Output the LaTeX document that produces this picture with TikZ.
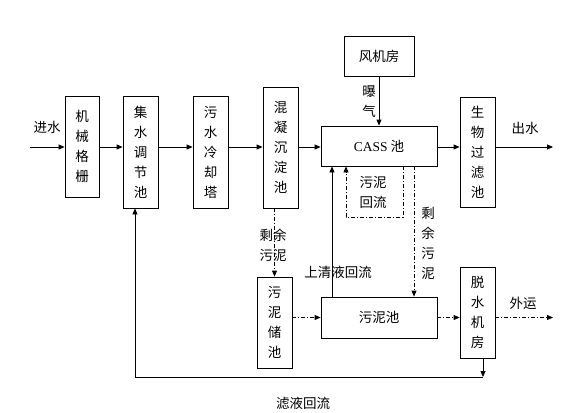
\documentclass[tikz,border=0pt]{standalone}
\usepackage{fontspec}
\setmainfont{Liberation Serif}
\newfontfamily\cjk{Noto Sans CJK SC}
\usetikzlibrary{arrows.meta}
\begin{document}
\begin{tikzpicture}[x=1pt,y=-1pt,
  every node/.style={font=\cjk\fontsize{13.5}{20}\selectfont, inner sep=0pt},
  box/.style={draw, line width=0.8pt, align=center},
  lbl/.style={align=center},
  arr/.style={-{Triangle[length=6pt,width=5pt]}},
  conn/.style={line width=0.8pt},
  dd/.style={line width=0.8pt, dash pattern=on 4pt off 2pt on 1pt off 2pt}]
\useasboundingbox (0,0) rectangle (580,412);
% boxes
\node[box, minimum width=34pt, minimum height=101pt] (jx) at (82,146.5) {机\\械\\格\\栅};
\node[box, minimum width=35pt, minimum height=112pt] (jsh) at (140.5,152) {集\\水\\调\\节\\池};
\node[box, minimum width=35pt, minimum height=112pt] (ws) at (210.5,152) {污\\水\\冷\\却\\塔};
\node[box, minimum width=35pt, minimum height=121pt] (hn) at (280.5,147.5) {混\\凝\\沉\\淀\\池};
\node[box, minimum width=70pt, minimum height=40pt] (fj) at (379,56) {风机房};
\node[box, minimum width=116pt, minimum height=40pt] (cass) at (379,146) {{\rmfamily CASS} 池};
\node[box, minimum width=35pt, minimum height=110pt] (sw) at (477.5,152) {生\\物\\过\\滤\\池};
\node[box, minimum width=116pt, minimum height=41pt] (wnc) at (379,317.5) {污泥池};
\node[box, minimum width=35pt, minimum height=91pt] (ts) at (477.5,312.5) {脱\\水\\机\\房};
\node[box, minimum width=35pt, minimum height=91pt] (cc) at (274.5,322.5) {污\\泥\\储\\池};
% coordinates
\coordinate (in) at (30,147);
\coordinate (out) at (553,147);
\coordinate (wy) at (553,317.5);
\coordinate (bl) at (135,377);
\coordinate (br) at (483,377);
% main flow
\draw[conn,arr] (in) -- (jx.west |- in);
\draw[conn,arr] (jx.east |- in) -- (jsh.west |- in);
\draw[conn,arr] (jsh.east |- in) -- (ws.west |- in);
\draw[conn,arr] (ws.east |- in) -- (hn.west |- in);
\draw[conn,arr] (hn.east |- in) -- (cass.west |- in);
\draw[conn,arr] (cass.east |- in) -- (sw.west |- in);
\draw[conn,arr] (sw.east |- in) -- (out);
\draw[conn,arr] (fj.south) -- (cass.north);
% sludge return loop
\draw[dd,arr] ([xshift=24pt]cass.south) -- ++(0,51) -| ([xshift=-33pt]cass.south);
% surplus sludge to sludge tank
\draw[dd,arr] ([xshift=35pt]cass.south) -- ([xshift=35pt]wnc.north);
% supernatant return
\draw[conn,arr] ([xshift=-47pt]wnc.north) -- ([xshift=-47pt]cass.south);
% coagulation -> storage
\draw[dd,arr] (cc.north |- hn.south) -- (cc.north);
% storage -> sludge tank
\draw[dd,arr] (cc.east |- wnc.west) -- (wnc.west);
\draw[dd,arr] (wnc.east) -- (wnc.east -| ts.west);
\draw[dd,arr] (ts.east |- wy) -- (wy);
% filtrate return
\draw[conn,arr] (ts.south -| br) -- (br);
\draw[conn] (br) -- (bl);
\draw[conn,arr] (bl) -- (jsh.south -| bl);
% labels
\node[lbl] (l1) at (47,127) {进水};
\node[lbl] (l2) at (525,128) {出水};
\node[lbl] (l3) at (369,102) {曝\\气};
\node[lbl] (l4) at (373,192) {污泥\\回流};
\node[lbl] (l5) at (428,243) {剩\\余\\污\\泥};
\node[lbl] (l6) at (338,272) {上清液回流};
\node[lbl] (l7) at (273,245) {剩余\\污泥};
\node[lbl] (l8) at (523,303) {外运};
\node[lbl] (l9) at (303,403) {滤液回流};
\end{tikzpicture}
\end{document}
